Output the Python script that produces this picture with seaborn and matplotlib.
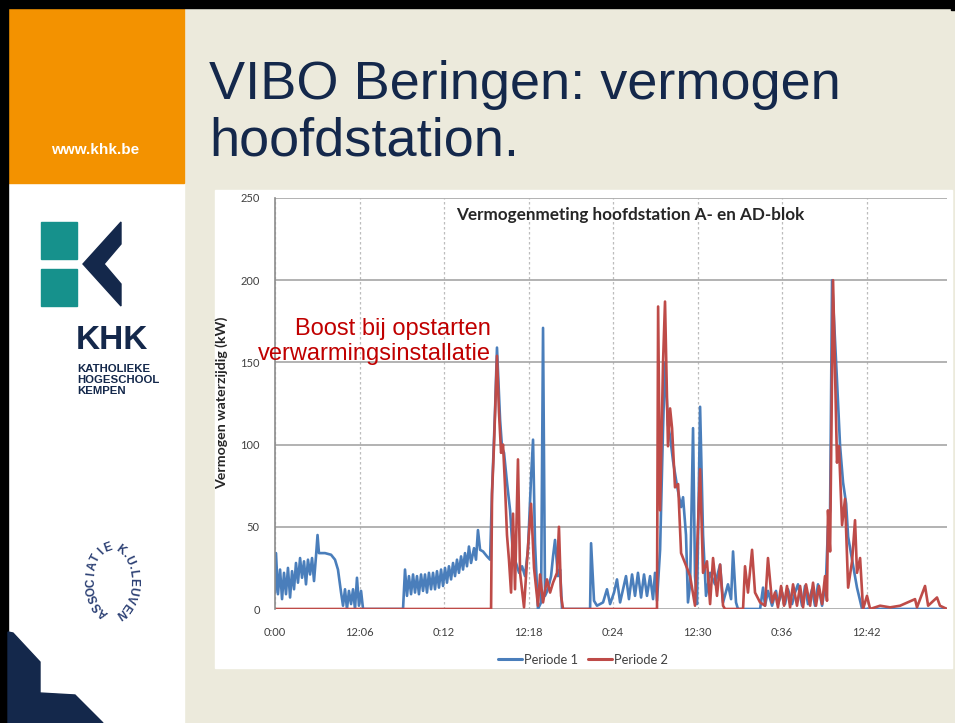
import numpy as np
import pandas as pd
import matplotlib
matplotlib.use("Agg")
import matplotlib.pyplot as plt
import seaborn as sns
from matplotlib.patches import Rectangle, Polygon

# ---------------- data ----------------
# time in minutes since start of measurement window, power in kW
t1 = [0.00, 0.07, 0.21, 0.36, 0.50, 0.64, 0.78, 0.92, 1.07, 1.21, 1.35, 1.49, 1.63, 1.78, 1.92,
      2.06, 2.20, 2.34, 2.49, 2.63, 2.77, 2.91, 3.02, 3.12, 3.55, 3.98, 4.26, 4.47, 4.69, 4.83,
      4.97, 5.11, 5.25, 5.40, 5.54, 5.68, 5.82, 5.96, 6.11, 6.25, 9.09, 9.23, 9.37, 9.51, 9.66,
      9.80, 9.94, 10.08, 10.22, 10.37, 10.51, 10.65, 10.79, 10.93, 11.08, 11.22, 11.36, 11.50,
      11.64, 11.79, 11.93, 12.07, 12.21, 12.35, 12.50, 12.64, 12.78, 12.92, 13.06, 13.21, 13.35,
      13.49, 13.63, 13.77, 13.92, 14.13, 14.27, 14.41, 14.56, 14.77, 15.05, 15.27, 15.41, 15.62,
      15.76, 15.98, 16.12, 16.26, 16.47, 16.69, 16.90, 17.11, 17.33, 17.54, 17.75, 17.96, 18.18,
      18.32, 18.46, 18.67, 18.89, 19.03, 19.17, 19.38, 19.60, 19.74, 19.88, 20.09, 20.24, 20.38,
      22.37, 22.44, 22.65, 22.86, 23.08, 23.29, 23.57, 23.79, 24.07, 24.28, 24.50, 24.71, 24.92,
      25.13, 25.35, 25.56, 25.77, 25.99, 26.20, 26.41, 26.63, 26.84, 26.98, 27.12, 27.34, 27.55,
      27.69, 27.90, 28.05, 28.26, 28.54, 28.83, 28.97, 29.18, 29.32, 29.47, 29.68, 29.82, 29.96,
      30.18, 30.39, 30.60, 30.89, 31.24, 31.60, 31.81, 32.16, 32.38, 32.52, 32.73, 32.87, 34.44,
      34.65, 34.79, 35.00, 35.29, 35.57, 35.71, 36.00, 36.21, 36.42, 36.71, 36.92, 37.13, 37.42,
      37.63, 37.84, 38.13, 38.34, 38.55, 38.84, 39.12, 39.26, 39.41, 39.55, 39.90, 40.12, 40.33,
      40.55, 40.69, 40.97, 41.32, 41.68, 47.71]
p1 = [10, 34, 9, 24, 6, 22, 9, 25, 7, 23, 12, 28, 16, 31, 19,
      29, 15, 30, 21, 31, 17, 32, 45, 34, 34, 33, 30, 24, 10, 2,
      12, 0, 11, 3, 12, 0, 19, 2, 11, 0, 0, 24, 8, 20, 9,
      21, 10, 20, 9, 21, 11, 21, 10, 22, 12, 22, 12, 23,
      13, 24, 14, 25, 16, 26, 18, 28, 20, 30, 22, 32, 24,
      34, 26, 38, 28, 37, 30, 48, 36, 35, 32, 30, 72, 120,
      159, 115, 98, 95, 77, 60, 32, 28, 22, 26, 20, 36, 80,
      103, 40, 0, 4, 171, 8, 12, 20, 32, 42, 20, 24, 0,
      0, 40, 5, 2, 3, 4, 12, 3, 10, 18, 4, 12, 20,
      6, 21, 8, 22, 7, 21, 8, 20, 6, 22, 5, 36, 110,
      150, 112, 105, 90, 75, 62, 68, 45, 4, 15, 110, 20, 3,
      123, 45, 8, 22, 15, 27, 4, 15, 6, 35, 4, 0, 0,
      13, 2, 11, 2, 11, 3, 10, 3, 12, 3, 10, 15, 2,
      14, 3, 12, 2, 15, 2, 18, 50, 60, 200, 139, 99, 77,
      64, 44, 30, 13, 0, 0]

t2 = [0.00, 15.34, 15.41, 15.55, 15.76, 15.90, 16.05, 16.19, 16.33, 16.47, 16.61, 16.76, 16.90,
      17.04, 17.25, 17.40, 17.68, 17.89, 18.18, 18.39, 18.67, 18.82, 19.03, 19.31, 19.53, 19.74,
      20.02, 20.16, 20.31, 20.45, 27.12, 27.20, 27.34, 27.55, 27.69, 27.90, 28.05, 28.19, 28.40,
      28.62, 28.83, 29.11, 29.47, 29.82, 30.18, 30.39, 30.67, 30.89, 31.10, 31.38, 31.60, 31.81,
      31.95, 33.23, 33.37, 33.58, 33.87, 34.08, 34.44, 34.79, 35.00, 35.29, 35.50, 35.71, 35.93,
      36.14, 36.35, 36.57, 36.78, 37.06, 37.28, 37.49, 37.70, 37.99, 38.20, 38.41, 38.62, 38.84,
      39.05, 39.19, 39.26, 39.41, 39.62, 39.76, 39.90, 40.04, 40.26, 40.47, 40.69, 40.97, 41.18,
      41.32, 41.54, 41.75, 42.03, 42.25, 42.96, 43.67, 44.38, 45.44, 45.58, 46.15, 46.37, 47.00,
      47.21, 47.71]
p2 = [0, 0, 70, 100, 154, 120, 95, 100, 75, 45, 30, 10, 58,
      12, 91, 22, 1, 29, 64, 25, 2, 21, 4, 18, 10, 16,
      22, 50, 8, 0, 0, 184, 60, 150, 187, 99, 122, 110, 74,
      76, 34, 28, 20, 2, 85, 22, 29, 3, 31, 8, 27, 2,
      0, 0, 26, 10, 36, 10, 4, 2, 31, 4, 10, 1, 14,
      2, 14, 1, 15, 2, 14, 1, 15, 2, 16, 2, 14, 3,
      20, 5, 60, 35, 200, 145, 89, 99, 51, 67, 13, 29, 54,
      22, 31, 0, 8, 0, 2, 1, 2, 6, 1, 14, 2, 7,
      2, 0]

series_names = ["Periode 1", "Periode 2"]
x_tick_pos = [0, 6, 12, 18, 24, 30, 36, 42]
x_tick_labels = ["0:00", "12:06", "0:12", "12:18", "0:24", "12:30", "0:36", "12:42"]
y_ticks = [0, 50, 100, 150, 200, 250]

chart_title = "Vermogenmeting hoofdstation A- en AD-blok"
y_label = "Vermogen waterzijdig (kW)"
slide_title = ["VIBO Beringen: vermogen", "hoofdstation."]
annotation = "Boost bij opstarten\nverwarmingsinstallatie"

df = pd.concat([
    pd.DataFrame({"t": t1, "kW": p1, "Periode": series_names[0]}),
    pd.DataFrame({"t": t2, "kW": p2, "Periode": series_names[1]}),
], ignore_index=True)

# ---------------- figure ----------------
sns.set_style("white")
plt.rcParams["font.family"] = ["Liberation Sans", "DejaVu Sans"]
CHART_FONT = ["Lato", "DejaVu Sans"]

W, H = 955, 723
fig = plt.figure(figsize=(W / 100, H / 100), dpi=100)

NAVY = "#14284B"
bg = fig.add_axes([0, 0, 1, 1], zorder=0)
bg.set_xlim(0, W)
bg.set_ylim(H, 0)
bg.axis("off")

bg.add_patch(Rectangle((0, 0), W, H, color="#ECEADC", zorder=0))
bg.add_patch(Rectangle((0, 0), 184, H, color="white", zorder=1))
bg.add_patch(Rectangle((8, 8), 176, 175, color="#F39200", zorder=2))
bg.add_patch(Rectangle((0, 0), W, 8, color="black", zorder=3))
bg.add_patch(Rectangle((0, 0), 8, H, color="black", zorder=3))
bg.add_patch(Rectangle((951, 0), 4, 10, color="black", zorder=3))
bg.text(95, 150, "www.khk.be", color="white", fontsize=11, fontweight="bold",
        ha="center", va="center", zorder=4)

# KHK logo
TEAL = "#16918C"
bg.add_patch(Rectangle((41, 222), 36, 37, color=TEAL, zorder=4))
bg.add_patch(Rectangle((41, 269), 36, 37, color=TEAL, zorder=4))
bg.add_patch(Polygon([(121, 222), (83, 264), (121, 306), (121, 284), (104, 264), (121, 244)],
                     closed=True, color=NAVY, zorder=4))
bg.text(76, 349, "KHK", color=NAVY, fontsize=24, fontweight="bold", ha="left", va="baseline", zorder=4)
for i, s in enumerate(["KATHOLIEKE", "HOGESCHOOL", "KEMPEN"]):
    bg.text(77, 372 + i * 11, s, color=NAVY, fontsize=8.2, fontweight="bold",
            ha="left", va="baseline", zorder=4)

# Associatie K.U.Leuven logo (text along an upright ellipse)
cx, cy, rx, ry = 112, 581, 21, 34
th_dense = np.linspace(0, 2 * np.pi, 3601)
ex, ey = rx * np.cos(th_dense), ry * np.sin(th_dense)
arc = np.concatenate([[0], np.cumsum(np.hypot(np.diff(ex), np.diff(ey)))])


def place_word(word, start_deg, spacing):
    s0 = np.interp(np.deg2rad(start_deg % 360), th_dense, arc)
    s = s0
    for ch in word:
        w = spacing * (0.55 if ch == "." else 1.0)
        sc = s - w / 2
        th = np.interp(sc % arc[-1], arc, th_dense)
        dx, dy = rx * np.sin(th), -ry * np.cos(th)   # clockwise direction
        rot = np.degrees(np.arctan2(dy, dx))
        bg.text(cx + rx * np.cos(th), cy - ry * np.sin(th), ch, rotation=rot,
                rotation_mode="anchor", ha="center", va="center", fontsize=8.5,
                fontweight="bold", color="#2B3F73", zorder=4)
        s -= w


place_word("ASSOCIATIE", 256, 8.2)
place_word("K.U.LEUVEN", 76, 8.6)

# bottom-left navy shape
bg.add_patch(Polygon([(8, 632), (13, 633), (40, 662), (40, 693), (75, 695), (103, 723), (8, 723)],
                     closed=True, color=NAVY, zorder=4))

# slide title
bg.text(209, 99, slide_title[0], color=NAVY, fontsize=39, ha="left", va="baseline", zorder=4)
bg.text(209, 156, slide_title[1], color=NAVY, fontsize=39, ha="left", va="baseline", zorder=4)

# chart white box
bg.add_patch(Rectangle((215, 190), 737, 478, color="white", zorder=2))

# ---------------- chart axes ----------------
left, right, top, bottom = 275, 947, 198, 609
ax = fig.add_axes([left / W, 1 - bottom / H, (right - left) / W, (bottom - top) / H], zorder=2)
ax.set_facecolor("none")

sns.lineplot(data=df, x="t", y="kW", hue="Periode", estimator=None, sort=True,
             palette=["#4A7EBB", "#BE4B48"], linewidth=1.9, ax=ax)

ax.set_xlim(0, 47.71)
ax.set_ylim(0, 250)
ax.set_xticks(x_tick_pos)
ax.set_xticklabels(x_tick_labels)
ax.set_yticks(y_ticks)
ax.set_xlabel("")
ax.set_ylabel(y_label, fontsize=10.2, fontweight="bold", family=CHART_FONT, color="#262626")
ax.yaxis.set_label_coords((228 - left) / (right - left), (609 - 403) / (bottom - top))
ax.tick_params(axis="both", length=0, labelsize=8, labelcolor="#404040")
ax.tick_params(axis="x", pad=13)
ax.tick_params(axis="y", pad=11)
for lab in ax.get_xticklabels() + ax.get_yticklabels():
    lab.set_family(CHART_FONT)

ax.grid(axis="y", color="#A6A6A6", linewidth=1.2, linestyle="-")
ax.grid(axis="x", color="#BDBDBD", linewidth=0.9, linestyle=(0, (2, 2)))
ax.set_axisbelow(True)
for s in ["top", "right", "bottom"]:
    ax.spines[s].set_visible(False)
ax.spines["left"].set_color("#8C8C8C")
ax.spines["left"].set_linewidth(1.2)

fig.text(630 / W, 1 - 215 / H, chart_title, fontsize=12.3, fontweight="bold",
         family=CHART_FONT, color="#262626", ha="center", va="center", zorder=10)

sns.move_legend(ax, "center", bbox_to_anchor=(583 / W, 1 - 660 / H),
                bbox_transform=fig.transFigure, ncol=2, frameon=False, title=None,
                fontsize=9.3, handlelength=1.8, columnspacing=0.85, handletextpad=0.15)
for txt in ax.get_legend().get_texts():
    txt.set_family(CHART_FONT)
    txt.set_color("#404040")
for ln in ax.get_legend().get_lines():
    ln.set_linewidth(2.2)

fig.text(491 / W, 1 - 341.5 / H, annotation, color="#C00000", fontsize=17,
         ha="right", va="center", linespacing=1.2, zorder=10)

fig.savefig("out.png", dpi=100)
